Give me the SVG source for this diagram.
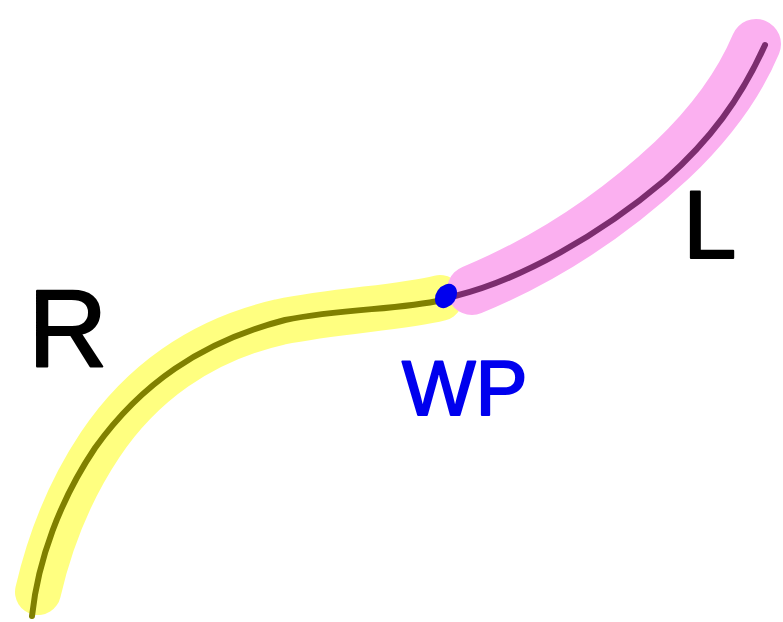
<svg xmlns="http://www.w3.org/2000/svg" width="783" height="622" viewBox="0 0 783 622">
<style>
.hl{fill:none;stroke-linecap:round;stroke-linejoin:round}
.lbl{font-family:"Liberation Sans",Arial,sans-serif;font-weight:normal;stroke-linecap:round;stroke-linejoin:round}
</style>
<rect width="783" height="622" fill="#ffffff"/>
<g id="yellow-segment">
<path class="hl" d="M38,592 C50,540 70,490 100,445 C140,385 200,340 280,322 C340,310 400,308 440,298" stroke="#ffff80" stroke-width="46"/>
<path class="hl" d="M32,616 C38,560 60,500 95,448 C140,385 200,342 285,320 C345,308 400,310 442,300" stroke="#808000" stroke-width="6"/>
</g>
<g id="pink-segment">
<path class="hl" d="M472,290 C540,262 610,218 672,160 C712,122 740,82 756,44" stroke="#fbb0f0" stroke-width="50"/>
<path class="hl" d="M455,296 C520,280 600,235 665,180 C710,140 740,100 765,45" stroke="#7b2d6e" stroke-width="6"/>
</g>
<g id="waypoint">
<ellipse cx="446" cy="296" rx="10" ry="13" transform="rotate(35 446 296)" fill="#0000ee"/>
</g>
<g id="labels">
<text class="lbl" x="28" y="366" font-size="110" fill="#000000" stroke="#000000" stroke-width="2">R</text>
<text class="lbl" x="683" y="258" font-size="96" fill="#000000" stroke="#000000" stroke-width="2">L</text>
<text class="lbl" x="402" y="415" font-size="78" fill="#0000ee" stroke="#0000ee" stroke-width="2">WP</text>
</g>
</svg>
